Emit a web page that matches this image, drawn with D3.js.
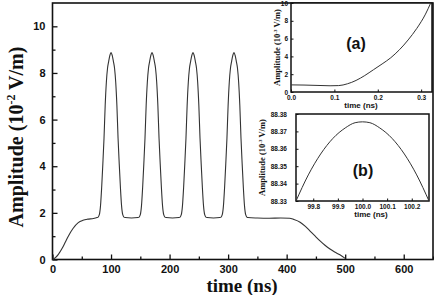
<!DOCTYPE html>
<html lang="en">
<head>
    <meta charset="UTF-8">
    <script src="https://d3js.org/d3.v7.min.js"></script>
    <title>Amplitude vs time</title>
    <style>
        body { margin: 0; background: #fff; }
        svg text { fill: #111; }
    </style>
</head>
<body>
    <div id="chart"></div>
</body>
<script>
    // -------- DATA --------------------------------
    // main curve
    var timeNs = [0, 5, 10, 17, 22, 27, 35, 44, 52, 60, 70,
        76, 78, 80, 82, 84, 86, 88, 90, 92, 94, 96, 98, 100, 102, 104, 106, 108, 110, 112, 114, 116, 118, 120, 122, 124,
        135,
        146, 148, 150, 152, 154, 156, 158, 160, 162, 164, 166, 168, 170, 172, 174, 176, 178, 180, 182, 184, 186, 188, 190, 192, 194,
        205,
        216, 218, 220, 222, 224, 226, 228, 230, 232, 234, 236, 238, 240, 242, 244, 246, 248, 250, 252, 254, 256, 258, 260, 262, 264,
        275,
        286, 288, 290, 292, 294, 296, 298, 300, 302, 304, 306, 308, 310, 312, 314, 316, 318, 320, 322, 324, 326, 328, 330, 332, 334,
        350, 370, 390, 405,
        412, 423, 432, 440, 448, 457, 466, 474, 482, 491, 500];
    var amplitude = [0, 0.08, 0.22, 0.5, 0.75, 1.0, 1.33, 1.58, 1.68, 1.73, 1.76,
        1.8, 1.82, 1.92, 2.3, 3.1, 4.1, 5.2, 6.6, 7.6, 8.2, 8.5, 8.75, 8.88, 8.75, 8.5, 8.2, 7.6, 6.6, 5.2, 4.1, 3.1, 2.3, 1.92, 1.82, 1.8,
        1.78,
        1.8, 1.82, 1.92, 2.3, 3.1, 4.1, 5.2, 6.6, 7.6, 8.2, 8.5, 8.75, 8.88, 8.75, 8.5, 8.2, 7.6, 6.6, 5.2, 4.1, 3.1, 2.3, 1.92, 1.82, 1.8,
        1.78,
        1.8, 1.82, 1.92, 2.3, 3.1, 4.1, 5.2, 6.6, 7.6, 8.2, 8.5, 8.75, 8.88, 8.75, 8.5, 8.2, 7.6, 6.6, 5.2, 4.1, 3.1, 2.3, 1.92, 1.82, 1.8,
        1.78,
        1.8, 1.82, 1.92, 2.3, 3.1, 4.1, 5.2, 6.6, 7.6, 8.2, 8.5, 8.75, 8.88, 8.75, 8.5, 8.2, 7.6, 6.6, 5.2, 4.1, 3.1, 2.3, 1.92, 1.82, 1.8,
        1.78, 1.77, 1.78, 1.77,
        1.72, 1.6, 1.42, 1.22, 1.02, 0.8, 0.6, 0.45, 0.32, 0.2, 0.05];
    var xTicks = [0, 100, 200, 300, 400, 500, 600];
    var xMinor = [50, 150, 250, 350, 450, 550, 650];
    var yTicks = [0, 2, 4, 6, 8, 10];
    var yMinor = [1, 3, 5, 7, 9];

    // inset (a)
    var aTime = [0, 0.03, 0.06, 0.09, 0.11, 0.13, 0.15, 0.17, 0.19, 0.21, 0.23, 0.25, 0.27, 0.29, 0.31, 0.322];
    var aAmp = [0.8, 0.78, 0.74, 0.7, 0.72, 0.92, 1.3, 1.85, 2.5, 3.15, 3.85, 4.75, 5.85, 7.15, 8.75, 10];
    var aXTicks = [0, 0.1, 0.2, 0.3];
    var aYTicks = [0, 2, 4, 6, 8, 10];

    // inset (b)
    var bTime = [99.73, 99.78, 99.83, 99.88, 99.93, 99.97, 100.0, 100.03, 100.07, 100.12, 100.17, 100.22, 100.27];
    var bAmp = [88.330, 88.345, 88.357, 88.366, 88.372, 88.375, 88.3755, 88.375, 88.372, 88.366, 88.357, 88.345, 88.330];
    var bXTicks = [99.8, 99.9, 100.0, 100.1, 100.2];
    var bYTicks = [88.33, 88.34, 88.35, 88.36, 88.37, 88.38];

    // -------- MAIN PLOT ---------
    var W = 434, H = 295;
    var svg = d3.select("#chart")
        .append("svg")
        .attr("width", W)
        .attr("height", H);

    var plotL = 52.5, plotR = 433, plotT = 3, plotB = 259.5;

    var x = d3.scaleLinear().domain([0, 650]).range([plotL, plotR]);
    var y = d3.scaleLinear().domain([0, 11]).range([plotB, plotT]);

    var boldSans = "'Liberation Sans', Arial, sans-serif";
    var boldSerif = "'Liberation Serif', 'Times New Roman', serif";

    // x axis, ticks pointing in
    svg.append("g")
        .attr("transform", "translate(0," + plotB + ")")
        .call(d3.axisBottom(x).tickValues(xTicks).tickSize(-5).tickPadding(6).tickSizeOuter(0));
    svg.append("g")
        .attr("transform", "translate(0," + plotB + ")")
        .call(d3.axisBottom(x).tickValues(xMinor).tickSize(-3).tickFormat("").tickSizeOuter(0));

    svg.append("g")
        .attr("transform", "translate(" + plotL + ",0)")
        .call(d3.axisLeft(y).tickValues(yTicks).tickSize(-5).tickPadding(7).tickSizeOuter(0));
    svg.append("g")
        .attr("transform", "translate(" + plotL + ",0)")
        .call(d3.axisLeft(y).tickValues(yMinor).tickSize(-3).tickFormat("").tickSizeOuter(0));

    svg.selectAll(".tick text")
        .attr("font-family", boldSans)
        .attr("font-weight", "bold")
        .attr("font-size", "11px");
    svg.selectAll(".domain").remove();
    svg.selectAll(".tick line").attr("stroke", "#111").attr("stroke-width", 1.3);

    // frame
    svg.append("rect")
        .attr("x", plotL)
        .attr("y", plotT)
        .attr("width", plotR - plotL)
        .attr("height", plotB - plotT)
        .attr("fill", "none")
        .attr("stroke", "#111")
        .attr("stroke-width", 1.6);

    var mainPts = timeNs.map(function (t, i) { return [t, amplitude[i]]; });
    var line = d3.line()
        .x(function (d) { return x(d[0]); })
        .y(function (d) { return y(d[1]); })
        .curve(d3.curveMonotoneX);
    svg.append("path")
        .datum(mainPts)
        .attr("d", line)
        .attr("fill", "none")
        .attr("stroke", "#333")
        .attr("stroke-width", 1.1);

    // axis titles
    svg.append("text")
        .attr("x", 242)
        .attr("y", 292)
        .attr("text-anchor", "middle")
        .attr("font-family", boldSerif)
        .attr("font-weight", "bold")
        .attr("font-size", "19px")
        .text("time (ns)");

    var yTitle = svg.append("text")
        .attr("transform", "translate(23,137) rotate(-90)")
        .attr("text-anchor", "middle")
        .attr("font-family", boldSerif)
        .attr("font-weight", "bold")
        .attr("font-size", "20px");
    yTitle.append("tspan").text("Amplitude (10");
    yTitle.append("tspan").attr("font-size", "12px").attr("dy", "-8").text("-2");
    yTitle.append("tspan").attr("dy", "8").text(" V/m)");

    // -------- INSETS ---------
    function inset(o) {
        var g = svg.append("g");
        var sx = d3.scaleLinear().domain(o.xDomain).range([o.x0, o.x1]);
        var sy = d3.scaleLinear().domain(o.yDomain).range([o.y1, o.y0]);
        g.append("rect")
            .attr("x", o.x0).attr("y", o.y0)
            .attr("width", o.x1 - o.x0).attr("height", o.y1 - o.y0)
            .attr("fill", "#fff");
        g.append("g")
            .attr("transform", "translate(0," + o.y1 + ")")
            .call(d3.axisBottom(sx).tickValues(o.xTicks).tickSize(-2.5).tickPadding(3).tickSizeOuter(0)
                .tickFormat(d3.format(o.xFmt)));
        g.append("g")
            .attr("transform", "translate(" + o.x0 + ",0)")
            .call(d3.axisLeft(sy).tickValues(o.yTicks).tickSize(-2.5).tickPadding(o.yPad).tickSizeOuter(0)
                .tickFormat(d3.format(o.yFmt)));
        g.selectAll(".domain").remove();
        g.selectAll(".tick text")
            .attr("font-family", boldSans)
            .attr("font-weight", "bold")
            .attr("font-size", "6.5px");
        g.selectAll(".tick line").attr("stroke", "#111");
        g.append("rect")
            .attr("x", o.x0).attr("y", o.y0)
            .attr("width", o.x1 - o.x0).attr("height", o.y1 - o.y0)
            .attr("fill", "none")
            .attr("stroke", "#111")
            .attr("stroke-width", 1.5);
        var pts = o.xs.map(function (t, i) { return [t, o.ys[i]]; });
        g.append("path")
            .datum(pts)
            .attr("d", d3.line()
                .x(function (d) { return sx(d[0]); })
                .y(function (d) { return sy(d[1]); })
                .curve(d3.curveMonotoneX))
            .attr("fill", "none")
            .attr("stroke", "#333")
            .attr("stroke-width", 1);
        g.append("text")
            .attr("x", o.titleX).attr("y", o.y1 + 16)
            .attr("text-anchor", "middle")
            .attr("font-family", boldSans)
            .attr("font-weight", "bold")
            .attr("font-size", "8px")
            .text("time (ns)");
        var yt = g.append("text")
            .attr("transform", "translate(" + o.yTitleX + "," + ((o.y0 + o.y1) / 2) + ") rotate(-90)")
            .attr("text-anchor", "middle")
            .attr("font-family", boldSerif)
            .attr("font-weight", "bold")
            .attr("font-size", "8.5px");
        yt.append("tspan").text("Amplitude (10");
        yt.append("tspan").attr("font-size", "5px").attr("dy", "-3").text("-3");
        yt.append("tspan").attr("dy", "3").text(" V/m)");
        g.append("text")
            .attr("x", o.labX).attr("y", o.labY)
            .attr("text-anchor", "middle")
            .attr("font-family", boldSans)
            .attr("font-weight", "bold")
            .attr("font-size", "16px")
            .text(o.label);
    }

    inset({
        x0: 291, x1: 432, y0: 3, y1: 92,
        xDomain: [0, 0.325], yDomain: [0, 10],
        xTicks: aXTicks, yTicks: aYTicks, xFmt: ".1f", yFmt: "d", yPad: 3,
        xs: aTime, ys: aAmp,
        titleX: 361, yTitleX: 280,
        label: "(a)", labX: 356, labY: 49
    });

    inset({
        x0: 296, x1: 429, y0: 114, y1: 201,
        xDomain: [99.73, 100.27], yDomain: [88.33, 88.38],
        xTicks: bXTicks, yTicks: bYTicks, xFmt: ".1f", yFmt: ".2f", yPad: 9,
        xs: bTime, ys: bAmp,
        titleX: 371, yTitleX: 265,
        label: "(b)", labX: 363, labY: 176
    });
</script>
</html>
